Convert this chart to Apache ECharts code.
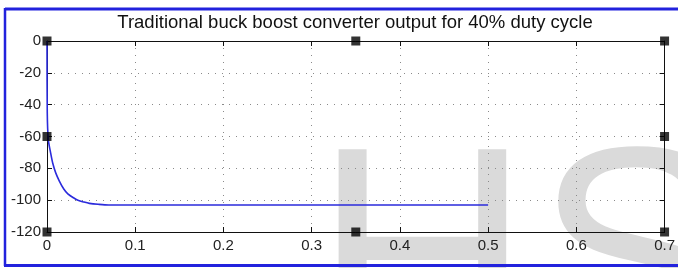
<!DOCTYPE html>
<html>
<head>
<meta charset="utf-8">
<script src="https://cdn.jsdelivr.net/npm/echarts@6/dist/echarts.min.js"></script>
<style>
  html, body { margin: 0; padding: 0; background: #fff; }
  #main { width: 678px; height: 268px; }
</style>
</head>
<body>
<div id="main"></div>
<script>
// time (s) and output voltage
const timeVals = [0, 0.0003, 0.0015, 0.004, 0.0066, 0.01, 0.014, 0.019, 0.0236, 0.03, 0.035, 0.042, 0.048, 0.058, 0.07, 0.5];
const voltVals = [0, -45, -62, -70, -77, -83, -88, -93, -96, -98.5, -100, -101.2, -102, -102.6, -103, -103];
const xTicks = [0, 0.1, 0.2, 0.3, 0.4, 0.5, 0.6, 0.7];
const yTicks = [0, -20, -40, -60, -80, -100, -120];
// figure selection handles (corners and mid-edges)
const handlePts = [[0, 0], [0.35, 0], [0.7, 0], [0, -60], [0.7, -60], [0, -120], [0.35, -120], [0.7, -120]];

const chart = echarts.init(document.getElementById('main'), null, { renderer: 'canvas' });

const fontFam = 'Liberation Sans, Arial, sans-serif';
const gridLine = { show: true, lineStyle: { color: '#8a8a8a', type: [1, 6], width: 1 } };

const option = {
  animation: false,
  backgroundColor: '#fff',
  title: {
    text: 'Traditional buck boost converter output for 40% duty cycle',
    left: 350,
    top: 8,
    textAlign: 'center',
    textStyle: { fontFamily: fontFam, fontSize: 18.5, fontWeight: 'normal', color: '#111' }
  },
  grid: { left: 47, right: 13, top: 41, bottom: 36 },
  graphic: [
    // faint watermark letters behind the plot
    { type: 'text', z: -10, left: 314, top: 123, style: { text: 'H', font: '300px Liberation Sans', fill: '#dadada' } },
    { type: 'text', z: -10, left: 535, top: 123, style: { text: 'S', font: '300px Liberation Sans', fill: '#dadada' } },
    // blue figure frame
    { type: 'line', z: 100, shape: { x1: 5, y1: 9, x2: 678, y2: 9 }, style: { stroke: '#2222dd', lineWidth: 3 } },
    { type: 'line', z: 100, shape: { x1: 5, y1: 8, x2: 5, y2: 266 }, style: { stroke: '#2222dd', lineWidth: 2.5 } },
    { type: 'line', z: 100, shape: { x1: 4, y1: 265.5, x2: 678, y2: 265.5 }, style: { stroke: '#2222dd', lineWidth: 3 } }
  ],
  xAxis: [
    {
      type: 'value', min: 0, max: 0.7, interval: 0.1,
      axisLine: { onZero: false, lineStyle: { color: '#111', width: 1 } },
      axisTick: { inside: true, length: 5, lineStyle: { color: '#111' } },
      axisLabel: { color: '#222', fontFamily: fontFam, fontSize: 15, margin: 6,
        formatter: v => (xTicks.indexOf(Math.round(v * 10) / 10) >= 0 ? String(Math.round(v * 10) / 10) : '') },
      splitLine: gridLine
    },
    {
      type: 'value', position: 'top', min: 0, max: 0.7, interval: 0.1,
      axisLine: { onZero: false, lineStyle: { color: '#111', width: 1 } },
      axisTick: { inside: true, length: 5, lineStyle: { color: '#111' } },
      axisLabel: { show: false },
      splitLine: { show: false }
    }
  ],
  yAxis: [
    {
      type: 'value', min: -120, max: 0, interval: 20,
      axisLine: { show: true, onZero: false, lineStyle: { color: '#111', width: 1 } },
      axisTick: { show: true, inside: true, length: 5, lineStyle: { color: '#111' } },
      axisLabel: { color: '#222', fontFamily: fontFam, fontSize: 15, margin: 6,
        formatter: v => (yTicks.indexOf(v) >= 0 ? String(v) : '') },
      splitLine: gridLine
    },
    {
      type: 'value', position: 'right', min: -120, max: 0, interval: 20,
      axisLine: { show: true, onZero: false, lineStyle: { color: '#111', width: 1 } },
      axisTick: { show: true, inside: true, length: 5, lineStyle: { color: '#111' } },
      axisLabel: { show: false },
      splitLine: { show: false }
    }
  ],
  series: [
    {
      type: 'line',
      data: timeVals.map((t, i) => [t, voltVals[i]]),
      showSymbol: false,
      smooth: 0.3,
      lineStyle: { color: '#2b2bdc', width: 1.6 },
      z: 5
    },
    {
      type: 'scatter',
      data: handlePts,
      symbol: 'rect',
      symbolSize: [9, 9],
      itemStyle: { color: '#000' },
      z: 10,
      silent: true
    }
  ]
};

chart.setOption(option);
</script>
</body>
</html>
